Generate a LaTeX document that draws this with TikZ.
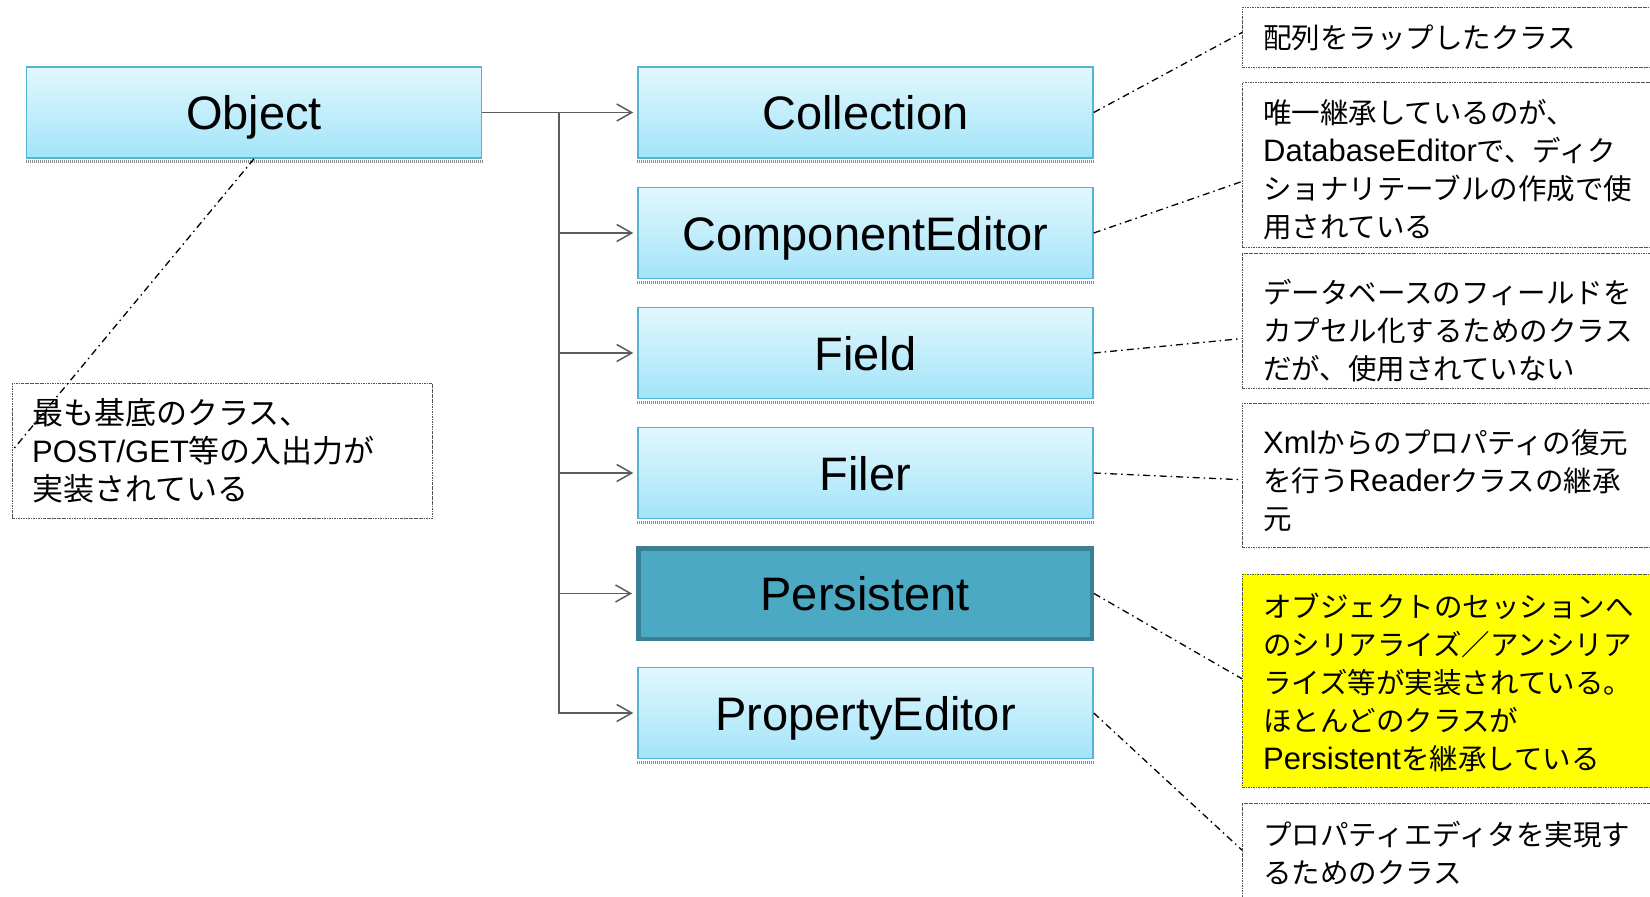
\documentclass[tikz,border=0pt]{standalone}
\usepackage{fontspec}
\setmainfont{Liberation Sans}
\newfontfamily\cjk{Noto Sans CJK JP}
\usetikzlibrary{arrows.meta,calc}
\definecolor{clstop}{HTML}{E2F7FD}
\definecolor{clsbot}{HTML}{A2E4F9}
\definecolor{clsborder}{HTML}{55B4CF}
\definecolor{perfill}{HTML}{4BA9C3}
\definecolor{perborder}{HTML}{3A8094}
\definecolor{linegray}{HTML}{5A5D60}
\definecolor{notegray}{HTML}{555555}
\definecolor{noteyellow}{HTML}{FFFF00}
\newcommand{\latn}[1]{{\rmfamily\fontsize{31}{38}\selectfont #1}}
\begin{document}
\begin{tikzpicture}[x=1pt,y=-1pt,
  cls/.style={draw=clsborder, line width=1.5pt, top color=clstop, bottom color=clsbot,
    minimum width=455pt, minimum height=91pt, inner sep=0pt, text height=34pt, text depth=0pt,
    font=\fontsize{47}{56}\selectfont},
  pers/.style={draw=perborder, line width=4.5pt, fill=perfill,
    minimum width=453.5pt, minimum height=90.5pt, inner sep=0pt, text height=34pt, text depth=0pt,
    font=\fontsize{47}{56}\selectfont},
  shad/.style={draw=black!45, line width=3pt, dash pattern=on 1pt off 1pt},
  arr/.style={draw=linegray, line width=1.8pt, -{Straight Barb[length=15pt,width=17pt,line width=1.5pt]}, shorten >=4pt},
  notebox/.style={draw=notegray, line width=0.8pt, dash pattern=on 2.5pt off 1pt on 0.6pt off 1pt, inner sep=0pt, anchor=north west},
  notetext/.style={anchor=west, align=left, inner sep=0pt, font=\cjk\fontsize{28.5}{38}\selectfont},
  dd/.style={draw=black, line width=1.3pt, dash pattern=on 7pt off 4pt on 1.5pt off 4pt}
]
\path[use as bounding box] (0,0) rectangle (1650,897);
\clip (0,0) rectangle (1650,897);
\fill[white] (0,0) rectangle (1650,897);

% class boxes
\node[cls] (obj) at (254,112.5) {Object};
\node[cls] (col) at (865.5,112.5) {Collection};
\node[cls] (ce)  at (865.5,233) {ComponentEditor};
\node[cls] (fld) at (865.5,353) {Field};
\node[cls] (fil) at (865.5,473) {Filer};
\node[pers] (per) at (865,593.5) {Persistent};
\node[cls] (pe)  at (865.5,713) {PropertyEditor};
\foreach \b in {obj,col,ce,fld,fil,pe}{
  \draw[shad] ([yshift=-2.8pt]\b.south west) -- ([yshift=-2.8pt]\b.south east);
}

% inheritance connectors
\coordinate (tr) at (559,112.5);
\draw[arr] (obj.east) -- (col.west);
\draw[arr] (tr) |- (ce.west);
\draw[arr] (tr) |- (fld.west);
\draw[arr] (tr) |- (fil.west);
\draw[arr] (tr) |- (per.west);
\draw[arr] (tr) |- (pe.west);

% note boxes
\node[notebox, minimum width=420pt, minimum height=135pt] (ln) at (12,383) {};
\node[notebox, minimum width=440pt, minimum height=60pt] (n1) at (1242,7) {};
\node[notebox, minimum width=440pt, minimum height=165pt] (n2) at (1242,82) {};
\node[notebox, minimum width=440pt, minimum height=135pt] (n3) at (1242,253) {};
\node[notebox, minimum width=440pt, minimum height=144pt] (n4) at (1242,403) {};
\node[notebox, fill=noteyellow, minimum width=440pt, minimum height=213pt] (n5) at (1242,574) {};
\node[notebox, minimum width=440pt, minimum height=130pt] (n6) at (1242,803) {};

% note texts
\node[notetext, font=\cjk\fontsize{31}{38}\selectfont] (lt) at (32,451) {最も基底のクラス、\\ \latn{POST/GET}等の入出力が\\ 実装されている};
\node[notetext] (t1) at (1263,38) {配列をラップしたクラス};
\node[notetext] (t2) at (1263,170) {唯一継承しているのが、\\ \latn{DatabaseEditor}で、ディク\\ ショナリテーブルの作成で使\\ 用されている};
\node[notetext] (t3) at (1263,331) {データベースのフィールドを\\ カプセル化するためのクラス\\ だが、使用されていない};
\node[notetext] (t4) at (1263,481) {\latn{Xml}からのプロパティの復元\\ を行う\latn{Reader}クラスの継承\\ 元};
\node[notetext] (t5) at (1263,682) {オブジェクトのセッションへ\\ のシリアライズ／アンシリア\\ ライズ等が実装されている。\\ ほとんどのクラスが\\ \latn{Persistent}を継承している};
\node[notetext] (t6) at (1263,853) {プロパティエディタを実現す\\ るためのクラス};

% annotation connectors
\draw[dd] (obj.south) -- (ln.west);
\draw[dd] (col.east) -- ($(n1.north west)!0.42!(n1.south west)$);
\draw[dd] (ce.east) -- ($(n2.north west)!0.6!(n2.south west)$);
\draw[dd] (fld.east) -- ($(n3.north west)!0.63!(n3.south west)$);
\draw[dd] (fil.east) -- ($(n4.north west)!0.53!(n4.south west)$);
\draw[dd] (per.east) -- ($(n5.north west)!0.49!(n5.south west)$);
\draw[dd] (pe.east) -- ($(n6.north west)!0.36!(n6.south west)$);
\end{tikzpicture}
\end{document}
